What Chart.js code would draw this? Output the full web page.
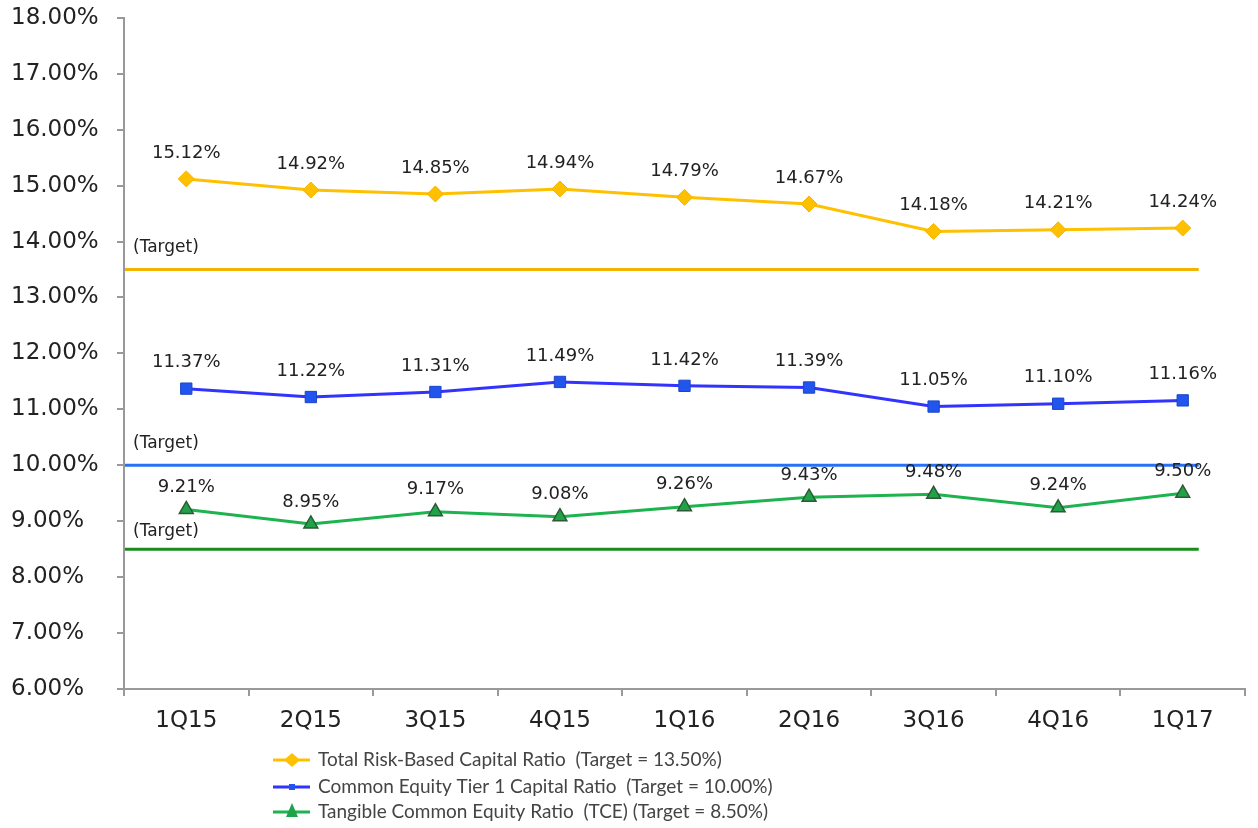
<!DOCTYPE html>
<html lang="en">
<head>
    <meta charset="UTF-8">
    <title>Capital Ratios</title>
    <script src="https://cdn.jsdelivr.net/npm/chart.js"></script>
    <style>
        body { margin: 0; background: #fff; }
        #wrap { width: 1258px; height: 828px; }
    </style>
</head>
<body>
    <div id="wrap"><canvas id="ratioChart" width="1258" height="828"></canvas></div>
    <script>
        const quarters = ['1Q15', '2Q15', '3Q15', '4Q15', '1Q16', '2Q16', '3Q16', '4Q16', '1Q17'];
        const totalRiskBased = [15.12, 14.92, 14.85, 14.94, 14.79, 14.67, 14.18, 14.21, 14.24];
        const cet1 = [11.37, 11.22, 11.31, 11.49, 11.42, 11.39, 11.05, 11.10, 11.16];
        const tce = [9.21, 8.95, 9.17, 9.08, 9.26, 9.43, 9.48, 9.24, 9.50];
        const targets = [13.50, 10.00, 8.50];
        const seriesNames = [
            'Total Risk-Based Capital Ratio  (Target = 13.50%)',
            'Common Equity Tier 1 Capital Ratio  (Target = 10.00%)',
            'Tangible Common Equity Ratio  (TCE) (Target = 8.50%)'
        ];

        const lineColors = ['#FFC000', '#3333FF', '#1DB34F'];
        const targetColors = ['#F2B400', '#2A70F5', '#1A8C1A'];

        // target lines + "(Target)" captions
        const targetPlugin = {
            id: 'targets',
            beforeDatasetsDraw(chart) {
                const { ctx, scales: { x, y }, chartArea } = chart;
                const right = x.getPixelForValue(quarters.length - 1) + 16;
                ctx.save();
                targets.forEach((t, i) => {
                    const py = y.getPixelForValue(t);
                    ctx.strokeStyle = targetColors[i];
                    ctx.lineWidth = 3;
                    ctx.beginPath();
                    ctx.moveTo(chartArea.left + 1, py);
                    ctx.lineTo(right, py);
                    ctx.stroke();
                    ctx.fillStyle = '#222';
                    ctx.font = '17px "DejaVu Sans"';
                    ctx.textAlign = 'left';
                    ctx.textBaseline = 'middle';
                    ctx.fillText('(Target)', chartArea.left + 9, py - (i === 2 ? 18 : 22));
                });
                ctx.restore();
            }
        };

        // value labels above each point
        const labelPlugin = {
            id: 'valueLabels',
            afterDatasetsDraw(chart) {
                const { ctx } = chart;
                ctx.save();
                ctx.fillStyle = '#222';
                ctx.font = '18px "DejaVu Sans"';
                ctx.textAlign = 'center';
                ctx.textBaseline = 'middle';
                chart.data.datasets.forEach((ds, di) => {
                    chart.getDatasetMeta(di).data.forEach((pt, i) => {
                        const dy = di === 2 ? 22 : 26;
                        ctx.fillText(ds.data[i].toFixed(2) + '%', pt.x, pt.y - dy);
                    });
                });
                ctx.restore();
            }
        };

        // legend under the axis, line + marker + text
        const legendPlugin = {
            id: 'customLegend',
            afterDraw(chart) {
                const { ctx } = chart;
                ctx.save();
                const rows = [760, 787, 812];
                chart.data.datasets.forEach((ds, i) => {
                    const y = rows[i];
                    ctx.strokeStyle = lineColors[i];
                    ctx.lineWidth = 3;
                    ctx.beginPath();
                    ctx.moveTo(273, y);
                    ctx.lineTo(310, y);
                    ctx.stroke();
                    ctx.fillStyle = ds.pointBackgroundColor;
                    ctx.beginPath();
                    if (i === 0) {
                        ctx.moveTo(292, y - 7); ctx.lineTo(300, y); ctx.lineTo(292, y + 7); ctx.lineTo(284, y);
                    } else if (i === 1) {
                        ctx.rect(289, y - 3, 6, 6);
                    } else {
                        ctx.moveTo(292, y - 9); ctx.lineTo(298, y + 5); ctx.lineTo(286, y + 5);
                    }
                    ctx.closePath();
                    ctx.fill();
                    ctx.fillStyle = '#444';
                    ctx.font = '19px Lato';
                    ctx.textAlign = 'left';
                    ctx.textBaseline = 'middle';
                    ctx.fillText(seriesNames[i], 318, y);
                });
                ctx.restore();
            }
        };

        const ctx = document.getElementById('ratioChart').getContext('2d');
        new Chart(ctx, {
            type: 'line',
            data: {
                labels: quarters,
                datasets: [
                    {
                        label: seriesNames[0],
                        data: totalRiskBased,
                        borderColor: lineColors[0],
                        borderWidth: 3,
                        pointStyle: 'rectRot',
                        pointRadius: 8,
                        pointBackgroundColor: '#FFC000',
                        pointBorderColor: '#F2B400',
                        pointBorderWidth: 1
                    },
                    {
                        label: seriesNames[1],
                        data: cet1,
                        borderColor: lineColors[1],
                        borderWidth: 3,
                        pointStyle: 'rect',
                        pointRadius: 8,
                        pointBackgroundColor: '#2255EE',
                        pointBorderColor: '#1C46C8',
                        pointBorderWidth: 1
                    },
                    {
                        label: seriesNames[2],
                        data: tce,
                        borderColor: lineColors[2],
                        borderWidth: 3,
                        pointStyle: 'triangle',
                        pointRadius: 8,
                        pointBackgroundColor: '#1FA24A',
                        pointBorderColor: '#2E5A33',
                        pointBorderWidth: 1.5
                    }
                ]
            },
            options: {
                responsive: false,
                animation: false,
                layout: { padding: { top: 0, right: 13, left: 11, bottom: 0 } },
                plugins: {
                    legend: { display: false },
                    tooltip: { enabled: false }
                },
                scales: {
                    x: {
                        offset: true,
                        grid: { offset: true, drawOnChartArea: false, tickLength: 7, color: '#999', lineWidth: 2 },
                        border: { color: '#999', width: 2 },
                        ticks: { color: '#222', font: { family: 'DejaVu Sans', size: 23 }, padding: 11 },
                        afterFit(scale) { scale.height = 139; }
                    },
                    y: {
                        min: 6,
                        max: 18,
                        grid: { drawOnChartArea: false, tickLength: 7, color: '#999', lineWidth: 2 },
                        border: { color: '#999', width: 2 },
                        ticks: {
                            stepSize: 1,
                            color: '#222',
                            padding: 4,
                            crossAlign: 'far',
                            font: { family: 'DejaVu Sans', size: 23 },
                            callback: v => v.toFixed(2) + '%'
                        },
                        afterFit(scale) { scale.width = 113; }
                    }
                }
            },
            plugins: [targetPlugin, labelPlugin, legendPlugin]
        });
    </script>
</body>
</html>
